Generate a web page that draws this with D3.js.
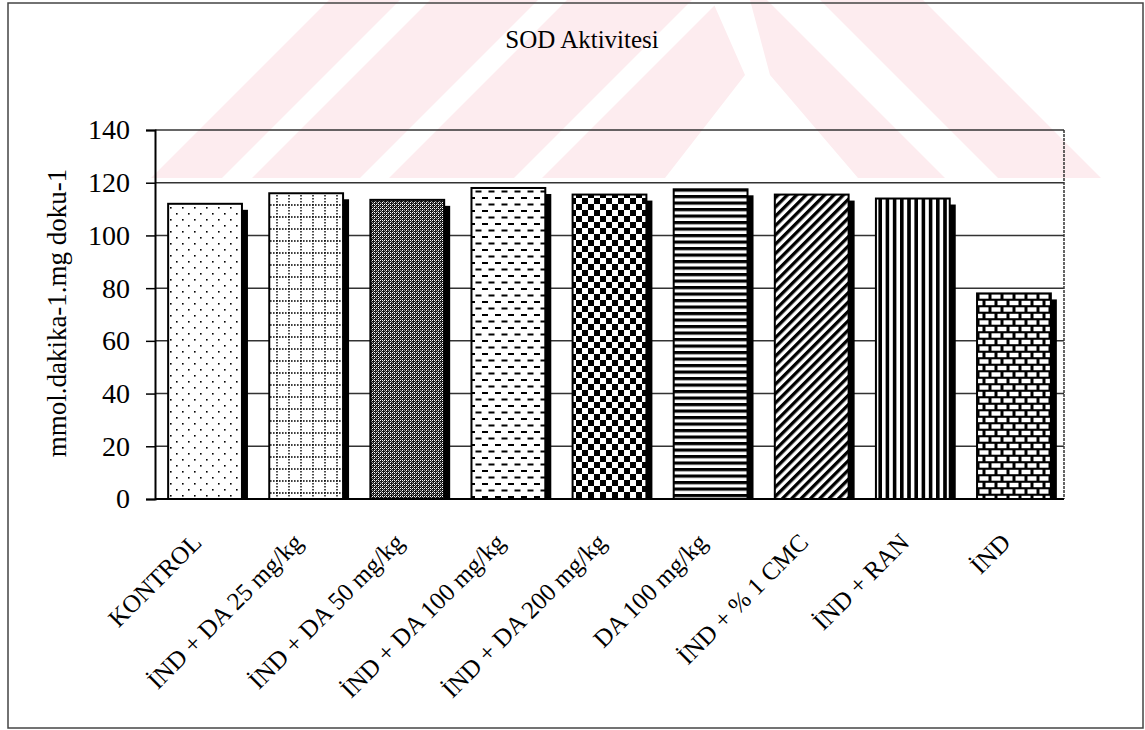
<!DOCTYPE html>
<html>
<head>
<meta charset="utf-8">
<script src="https://cdn.jsdelivr.net/npm/d3@7"></script>
<style>
  html, body { margin: 0; padding: 0; background: #fff; }
  svg { display: block; font-family: "Liberation Serif", "Times New Roman", serif; }
</style>
</head>
<body>
<svg id="chart" width="1145" height="730"></svg>
<script>
// SOD activity per group
const categories = [
  "KONTROL",
  "İND + DA 25 mg/kg",
  "İND + DA 50 mg/kg",
  "İND + DA 100 mg/kg",
  "İND + DA 200 mg/kg",
  "DA 100 mg/kg",
  "İND + % 1  CMC",
  "İND + RAN",
  "İND"
];
const values = [112, 116, 113.5, 118, 115.5, 117.5, 115.5, 114, 78];
const yTicks = [0, 20, 40, 60, 80, 100, 120, 140];
const fillIds = ["dots", "dotgrid", "dark", "dashes", "checker", "hstripe", "diag", "vstripe", "brick"];

const title = "SOD Aktivitesi";
const yLabel = "mmol.dakika-1.mg doku-1";

const svg = d3.select("#chart");
const W = 1145, H = 730;
const plot = { left: 155, right: 1064, top: 130, bottom: 499 };

const defs = svg.append("defs");

function pat(id, w, h, extra) {
  const p = defs.append("pattern")
    .attr("id", id)
    .attr("patternUnits", "userSpaceOnUse")
    .attr("width", w).attr("height", h);
  if (extra) p.attr("patternTransform", extra);
  return p;
}

// sparse dots
{
  const p = pat("dots", 12, 12);
  p.append("rect").attr("width", 12).attr("height", 12).attr("fill", "#fff");
  [[2, 3], [8, 9]].forEach(([x, y]) =>
    p.append("rect").attr("x", x).attr("y", y).attr("width", 1.6).attr("height", 1.6).attr("fill", "#000"));
}
// dotted grid
{
  const p = pat("dotgrid", 12, 12);
  p.append("rect").attr("width", 12).attr("height", 12).attr("fill", "#fff");
  p.append("line").attr("x1", 0).attr("y1", 1).attr("x2", 12).attr("y2", 1)
    .attr("stroke", "#000").attr("stroke-width", 1.4).attr("stroke-dasharray", "1.6,1.4");
  p.append("line").attr("x1", 1).attr("y1", 0).attr("x2", 1).attr("y2", 12)
    .attr("stroke", "#000").attr("stroke-width", 1.4).attr("stroke-dasharray", "1.6,1.4");
}
// dark fine mesh
{
  const p = pat("dark", 4, 4);
  p.append("rect").attr("width", 4).attr("height", 4).attr("fill", "#151515");
  [[0, 0], [2, 2], [2, 0]].forEach(([x, y]) =>
    p.append("rect").attr("x", x).attr("y", y).attr("width", 1).attr("height", 1).attr("fill", "#fff"));
  [[1, 3], [3, 1], [0, 2]].forEach(([x, y]) =>
    p.append("rect").attr("x", x).attr("y", y).attr("width", 1).attr("height", 1).attr("fill", "#999"));
}
// staggered dashes
{
  const p = pat("dashes", 13, 13);
  p.append("rect").attr("width", 13).attr("height", 13).attr("fill", "#fff");
  p.append("rect").attr("x", 1).attr("y", 2).attr("width", 6).attr("height", 2).attr("fill", "#000");
  p.append("rect").attr("x", 7.5).attr("y", 8.5).attr("width", 6).attr("height", 2).attr("fill", "#000");
  p.append("rect").attr("x", -5.5).attr("y", 8.5).attr("width", 6).attr("height", 2).attr("fill", "#000");
}
// checkerboard
{
  const p = pat("checker", 12, 12);
  p.append("rect").attr("width", 12).attr("height", 12).attr("fill", "#fff");
  p.append("rect").attr("x", 0).attr("y", 0).attr("width", 6).attr("height", 6).attr("fill", "#000");
  p.append("rect").attr("x", 6).attr("y", 6).attr("width", 6).attr("height", 6).attr("fill", "#000");
}
// horizontal stripes
{
  const p = pat("hstripe", 10, 6.5);
  p.append("rect").attr("width", 10).attr("height", 6.5).attr("fill", "#fff");
  p.append("rect").attr("width", 10).attr("height", 3.2).attr("fill", "#000");
}
// diagonal stripes
{
  const p = pat("diag", 6.6, 6.6, "rotate(45)");
  p.append("rect").attr("width", 6.6).attr("height", 6.6).attr("fill", "#fff");
  p.append("rect").attr("width", 3.3).attr("height", 6.6).attr("fill", "#000");
}
// vertical stripes
{
  const p = pat("vstripe", 7.2, 10);
  p.append("rect").attr("width", 7.2).attr("height", 10).attr("fill", "#fff");
  p.append("rect").attr("width", 3.6).attr("height", 10).attr("fill", "#000");
}
// brick
{
  const p = pat("brick", 12, 13);
  p.append("rect").attr("width", 12).attr("height", 13).attr("fill", "#000");
  p.append("rect").attr("x", 1.5).attr("y", 1.8).attr("width", 9).attr("height", 4.4).attr("fill", "#fff");
  p.append("rect").attr("x", -4.5).attr("y", 8.3).attr("width", 9).attr("height", 4.4).attr("fill", "#fff");
  p.append("rect").attr("x", 7.5).attr("y", 8.3).attr("width", 9).attr("height", 4.4).attr("fill", "#fff");
}

svg.append("rect").attr("width", W).attr("height", H).attr("fill", "#fff");

// pale backdrop emblem behind the upper part of the figure
{
  defs.append("clipPath").attr("id", "emblemClip")
    .append("polygon").attr("points", "329,0 923,0 1101,178 151,178");
  const g = svg.append("g").attr("clip-path", "url(#emblemClip)");
  g.append("rect").attr("x", 0).attr("y", 0).attr("width", W).attr("height", 178).attr("fill", "#fdecef");
  const white = "#fff";
  // rising bands
  [[400, 430], [538, 567], [692, 720]].forEach(([a, b]) =>
    g.append("polygon").attr("points", `${a},0 ${b},0 ${b - 178},178 ${a - 178},178`).attr("fill", white));
  // central notch
  g.append("polygon").attr("points", "712,0 750,0 770,75 858,178 665,178 745,75").attr("fill", white);
  // falling band on the right
  g.append("polygon").attr("points", "767,0 820,0 998,178 945,178").attr("fill", white);
}

// outer frame
svg.append("rect").attr("x", 8).attr("y", 3).attr("width", 1135).attr("height", 725)
  .attr("fill", "none").attr("stroke", "#444").attr("stroke-width", 1.5);

const x = d3.scaleBand().domain(categories).range([plot.left, plot.right])
  .paddingInner(0.27).paddingOuter(0.13);
const y = d3.scaleLinear().domain([0, 140]).range([plot.bottom, plot.top]);

// horizontal gridlines
svg.append("g").selectAll("line").data(yTicks.filter(d => d > 0)).join("line")
  .attr("x1", plot.left).attr("x2", plot.right)
  .attr("y1", d => y(d)).attr("y2", d => y(d))
  .attr("stroke", "#333").attr("stroke-width", 1.5);

// right border of the plot area
svg.append("line").attr("x1", plot.right).attr("x2", plot.right)
  .attr("y1", plot.top).attr("y2", plot.bottom)
  .attr("stroke", "#333").attr("stroke-width", 1.5).attr("stroke-dasharray", "3,1");

// bars with drop shadow
const data = categories.map((c, i) => ({ c, v: values[i], f: fillIds[i] }));
const bars = svg.append("g");
bars.selectAll("rect.shadow").data(data).join("rect").attr("class", "shadow")
  .attr("x", d => x(d.c) + 6).attr("y", d => y(d.v) + 6)
  .attr("width", x.bandwidth()).attr("height", d => y(0) - y(d.v) - 6)
  .attr("fill", "#000");
bars.selectAll("rect.bar").data(data).join("rect").attr("class", "bar")
  .attr("x", d => x(d.c)).attr("y", d => y(d.v))
  .attr("width", x.bandwidth()).attr("height", d => y(0) - y(d.v))
  .attr("fill", d => `url(#${d.f})`)
  .attr("stroke", "#000").attr("stroke-width", 2);

// y axis
const yAxis = svg.append("g").attr("transform", `translate(${plot.left},0)`)
  .call(d3.axisLeft(y).tickValues(yTicks).tickSize(9).tickPadding(16).tickFormat(d3.format("d")));
yAxis.select(".domain").attr("stroke", "#000").attr("stroke-width", 2);
yAxis.selectAll(".tick line").attr("stroke", "#000").attr("stroke-width", 1.5);
yAxis.selectAll(".tick text").attr("fill", "#000").style("font-size", "28px")
  .style("font-family", "'Liberation Serif', 'Times New Roman', serif");

// x axis baseline
svg.append("line").attr("x1", plot.left).attr("x2", plot.right)
  .attr("y1", plot.bottom).attr("y2", plot.bottom)
  .attr("stroke", "#000").attr("stroke-width", 2);

// category labels
const xAxis = svg.append("g").attr("transform", `translate(0,${plot.bottom})`)
  .call(d3.axisBottom(x).tickSize(0));
xAxis.select(".domain").remove();
xAxis.selectAll(".tick text")
  .attr("fill", "#000")
  .style("font-size", "25px")
  .style("font-family", "'Liberation Serif', 'Times New Roman', serif")
  .attr("text-anchor", "end")
  .attr("x", 0).attr("y", 0).attr("dy", 0)
  .attr("transform", "translate(-2,45) rotate(-45)");

// title
svg.append("text").attr("x", 582).attr("y", 48).attr("text-anchor", "middle")
  .style("font-size", "25px").attr("fill", "#000").text(title);

// y axis title
svg.append("text")
  .attr("transform", `translate(66,313) rotate(-90)`)
  .attr("text-anchor", "middle")
  .style("font-size", "27px").attr("fill", "#000").text(yLabel);
</script>
</body>
</html>
